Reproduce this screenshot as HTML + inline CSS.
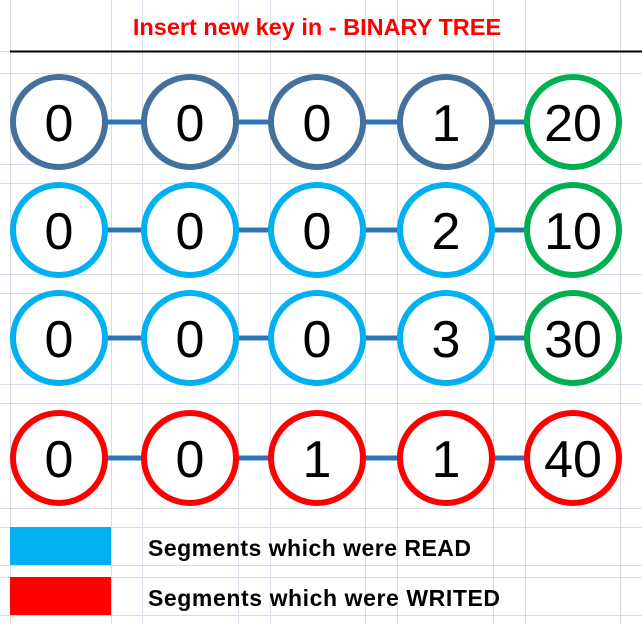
<!DOCTYPE html>
<html><head><meta charset="utf-8"><style>
body{margin:0;background:#fff}
svg{display:block}
</style></head><body>
<svg width="642" height="624" viewBox="0 0 642 624" font-family="'Liberation Sans',sans-serif">
<g id="grid" stroke="#d6dce8" stroke-width="1"></g>
<line x1="10" y1="51.5" x2="642" y2="51.5" stroke="#000" stroke-width="2"/>
<text x="317" y="35" text-anchor="middle" font-size="23.5" font-weight="bold" fill="#ff0000">Insert new key in - BINARY TREE</text>
<g id="rows"></g>
<rect x="10" y="527" width="101" height="38" fill="#00b0f0"/>
<rect x="10" y="577" width="101" height="38" fill="#ff0000"/>
<text x="148" y="556" font-size="23" font-weight="bold" fill="#000" textLength="323">Segments which were READ</text>
<text x="148" y="606" font-size="23" font-weight="bold" fill="#000" textLength="352">Segments which were WRITED</text>
</svg>
<script>
const rowValues=[["0","0","0","1","20"],["0","0","0","2","10"],["0","0","0","3","30"],["0","0","1","1","40"]];
const rowColors=[["#44719c","#44719c","#44719c","#44719c","#00b050"],["#00b0f0","#00b0f0","#00b0f0","#00b0f0","#00b050"],["#00b0f0","#00b0f0","#00b0f0","#00b0f0","#00b050"],["#ff0000","#ff0000","#ff0000","#ff0000","#ff0000"]];
const NS="http://www.w3.org/2000/svg";
const colX=[59,190,317,446,573], rowY=[122,230,338,458];
const g=document.getElementById('grid');
[10,111,142,238,270,365,397,493,525,620].forEach(x=>{const l=document.createElementNS(NS,'line');l.setAttribute('x1',x+.5);l.setAttribute('x2',x+.5);l.setAttribute('y1',0);l.setAttribute('y2',624);


g.appendChild(l);});
[51,73,164,183,274,293,384,403,508,527,565,577,615].forEach(y=>{const l=document.createElementNS(NS,'line');l.setAttribute('y1',y+.5);l.setAttribute('y2',y+.5);l.setAttribute('x1',0);l.setAttribute('x2',642);


g.appendChild(l);});
const rows=document.getElementById('rows');
rowValues.forEach((vals,r)=>{
  const y=rowY[r];
  for(let i=0;i<4;i++){const l=document.createElementNS(NS,'line');l.setAttribute('x1',colX[i]+45);l.setAttribute('x2',colX[i+1]-45);l.setAttribute('y1',y);l.setAttribute('y2',y);l.setAttribute('stroke','#2e75b6');l.setAttribute('stroke-width','5');
  
  
  rows.appendChild(l);}
  vals.forEach((v,i)=>{
    const c=document.createElementNS(NS,'ellipse');c.setAttribute('cx',colX[i]);c.setAttribute('cy',y);c.setAttribute('rx',46);c.setAttribute('ry',45);c.setAttribute('fill','#fff');c.setAttribute('stroke',rowColors[r][i]);c.setAttribute('stroke-width','6');
    
    
    rows.appendChild(c);
    const t=document.createElementNS(NS,'text');t.setAttribute('x',colX[i]);t.setAttribute('y',y+19);t.setAttribute('text-anchor','middle');t.setAttribute('font-size','52');t.textContent=v;
    
    
    rows.appendChild(t);
  });
});
</script>
</body></html>
